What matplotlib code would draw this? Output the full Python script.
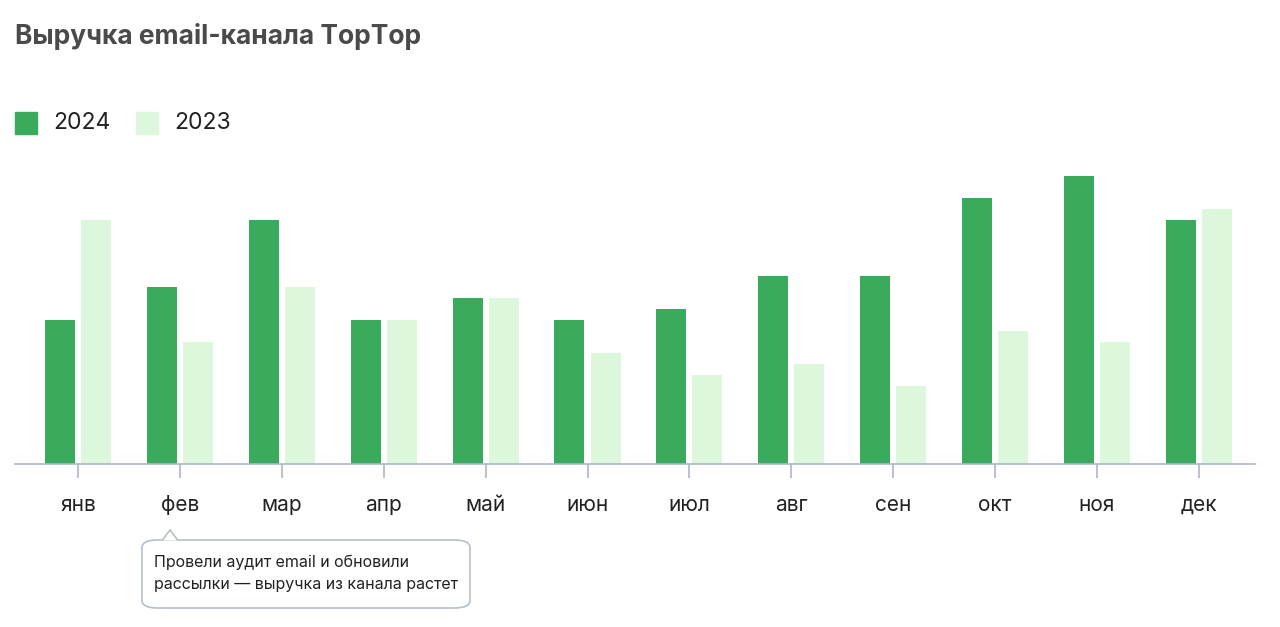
import matplotlib
matplotlib.use("Agg")
import matplotlib.pyplot as plt
from matplotlib.patches import FancyBboxPatch, Polygon, Rectangle
import numpy as np

plt.rcParams['font.family'] = ['Inter', 'DejaVu Sans']

months = ["янв", "фев", "мар", "апр", "май", "июн", "июл", "авг", "сен", "окт", "ноя", "дек"]
rev_2024 = [13, 16, 22, 13, 15, 13, 14, 17, 17, 24, 26, 22]
rev_2023 = [22, 11, 16, 13, 15, 10, 8, 9, 7, 12, 11, 23]

c24 = "#3aaa5c"
c23 = "#dcf7dc"
axis_c = "#aeb6c6"

fig = plt.figure(figsize=(12.8, 6.27), dpi=100)
ax = fig.add_axes([15/1280, 1-464/627, 1240/1280, 288/627])
x = np.arange(len(months))
w = 0.294
off = 0.177
ax.bar(x - off, rev_2024, width=w, color=c24, label="2024")
ax.bar(x + off, rev_2023, width=w, color=c23, label="2023")
ax.set_xlim(-0.618, 11.55)
ax.set_ylim(0, 26)
for s in ["top", "right", "left"]:
    ax.spines[s].set_visible(False)
ax.spines["bottom"].set_color(axis_c)
ax.spines["bottom"].set_linewidth(1.2)
ax.set_yticks([])
ax.set_xticks(x)
ax.set_xticklabels(months, fontsize=15, color="#222222")
ax.tick_params(axis="x", length=10, color=axis_c, width=1.2, pad=12)

fig.text(15/1280, 1-37/627, "Выручка email-канала TopTop", fontsize=19, fontweight="bold",
         color="#4a4a4a", va="center", ha="left")

# legend
for xp, col, lab in [(15, c24, "2024"), (136, c23, "2023")]:
    fig.patches.append(Rectangle((xp/1280, 1-134/627), 22/1280, 22/627, transform=fig.transFigure,
                                 color=col))
    fig.text((xp+38)/1280, 1-123/627, lab, fontsize=16.5, color="#222222", va="center", ha="left")

# annotation
bx0, bx1, by0, by1 = 142, 470, 540, 608
fig.patches.append(FancyBboxPatch((bx0/1280, 1-by1/627), (bx1-bx0)/1280, (by1-by0)/627,
                                  boxstyle="round,pad=0,rounding_size=0.012",
                                  transform=fig.transFigure, facecolor="white",
                                  edgecolor="#b5bfcc", linewidth=1.2))
fig.patches.append(Polygon([(162/1280, 1-540.5/627), (170/1280, 1-530/627), (178/1280, 1-540.5/627)],
                           closed=False, transform=fig.transFigure, facecolor="white",
                           edgecolor="#b5bfcc", linewidth=1.2))
fig.text(154/1280, 1-573/627, "Провели аудит email и обновили\nрассылки — выручка из канала растет",
         fontsize=11.5, color="#222222", va="center", ha="left", linespacing=1.6)

fig.savefig("out.png", dpi=100, facecolor="white")
